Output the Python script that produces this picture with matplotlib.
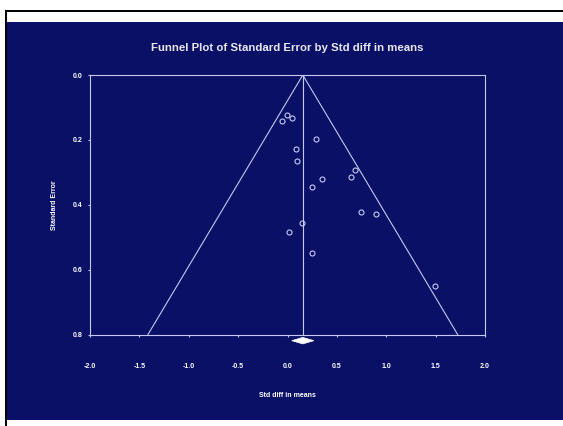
import matplotlib
matplotlib.use("Agg")
import matplotlib.pyplot as plt
from matplotlib.patches import Rectangle, Polygon

# Data
effect = [-0.056, -0.005, 0.046, 0.292, 0.083, 0.096, 0.352, 0.251,
          0.144, 0.015, 0.245, 0.643, 0.687, 0.744, 0.893, 1.497]
std_err = [0.142, 0.123, 0.132, 0.196, 0.229, 0.266, 0.320, 0.346,
           0.456, 0.485, 0.549, 0.313, 0.292, 0.422, 0.430, 0.651]
pooled_mean = 0.155
pooled_lower = 0.043
pooled_upper = 0.267
x_ticks = [-2.0, -1.5, -1.0, -0.5, 0.0, 0.5, 1.0, 1.5, 2.0]
y_ticks = [0.0, 0.2, 0.4, 0.6, 0.8]

W, H = 563, 426
navy = "#0a1066"
lav = "#c4c8f2"

fig = plt.figure(figsize=(W / 100, H / 100), dpi=100)
fig.patch.set_facecolor("white")

def px_rect(x0, y0_top, x1, y1_top, color):
    fig.patches.append(Rectangle((x0 / W, 1 - y1_top / H), (x1 - x0) / W,
                                 (y1_top - y0_top) / H, transform=fig.transFigure,
                                 facecolor=color, edgecolor="none", zorder=-5))

px_rect(7, 22, 563, 420, navy)
px_rect(5, 10, 563, 12, "black")
px_rect(5, 10, 7, 426, "black")

ax = fig.add_axes([90 / W, 1 - 334.5 / H, (485 - 90) / W, (334.5 - 75) / H])
ax.set_zorder(5)
ax.set_facecolor(navy)
ax.set_xlim(-2.0, 2.0)
ax.set_ylim(0.8, 0.0)

z = 1.96
ymax = 0.8
ax.plot([pooled_mean - z * ymax, pooled_mean, pooled_mean + z * ymax],
        [ymax, 0.0, ymax], color=lav, lw=0.8)
ax.plot([pooled_mean, pooled_mean], [0.0, ymax], color=lav, lw=0.8)

ax.plot(effect, std_err, linestyle="none", marker="o", markersize=3.6,
        markerfacecolor="none", markeredgecolor=lav, markeredgewidth=0.8)

dy = 0.819
hh = 0.010
ax.add_patch(Polygon([[pooled_lower, dy], [pooled_mean, dy - hh],
                      [pooled_upper, dy], [pooled_mean, dy + hh]],
                     closed=True, facecolor="white", edgecolor="white",
                     lw=0.5, clip_on=False))

for s in ax.spines.values():
    s.set_color(lav)
    s.set_linewidth(0.8)

ax.set_xticks(x_ticks)
ax.set_xticklabels([f"{v:.1f}" for v in x_ticks])
ax.set_yticks(y_ticks)
ax.set_yticklabels([f"{v:.1f}" for v in y_ticks])
ax.tick_params(axis="x", colors=lav, length=1.5, width=0.8, pad=19,
               labelsize=5, labelcolor="white")
ax.tick_params(axis="y", colors=lav, length=1.5, width=0.8, pad=4,
               labelsize=5, labelcolor="white")
for lbl in ax.get_xticklabels() + ax.get_yticklabels():
    lbl.set_fontweight("bold")
    lbl.set_fontfamily("Liberation Sans")

ax.set_xlabel("Std diff in means", color="white", fontsize=5, fontweight="bold",
              family="Liberation Sans", labelpad=16)
ax.set_ylabel("Standard Error", color="white", fontsize=5, fontweight="bold",
              family="Liberation Sans", labelpad=10.5)

fig.text(287 / W, 1 - 48 / H, "Funnel Plot of Standard Error by Std diff in means",
         ha="center", va="center", color="#e8e8f8", fontsize=8.2,
         fontweight="bold", family="Liberation Sans")

fig.savefig("out.png", dpi=100, facecolor=fig.get_facecolor())
